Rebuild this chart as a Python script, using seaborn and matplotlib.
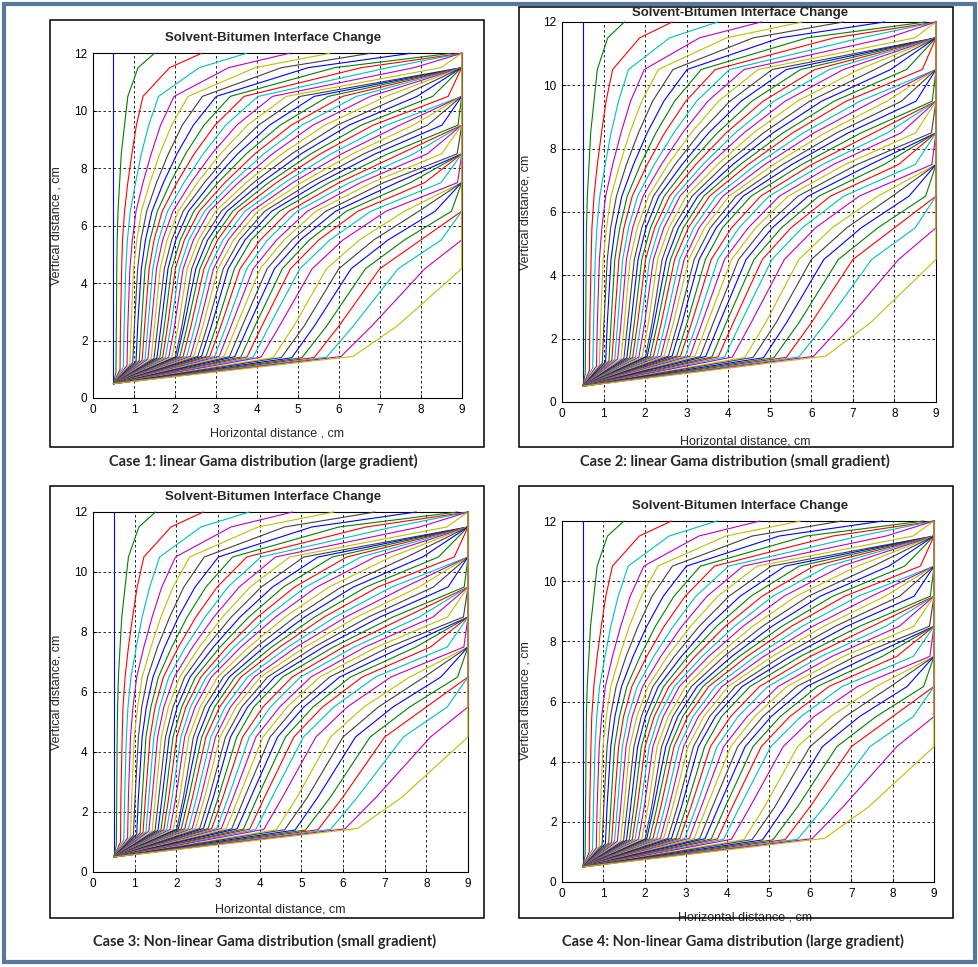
import matplotlib
matplotlib.use("Agg")
import matplotlib.pyplot as plt
import pandas as pd
import seaborn as sns
from matplotlib.patches import Rectangle

# ---------------- data ----------------
START_X, START_Y = 0.5, 0.5
Y_LEVELS = [2.5, 4.5, 5.5, 6.5, 7.5, 8.5, 9.5, 10.5, 11.5, 12.0]

KNEE_X = [0.50, 0.56, 0.66, 0.74, 0.83, 0.90, 0.97, 1.05, 1.13, 1.20, 1.27, 1.34,
          1.42, 1.49, 1.56, 1.63, 1.70, 1.77, 1.85, 1.93, 2.01, 2.05, 2.12, 2.20,
          2.29, 2.38, 2.46, 2.56, 2.65, 2.76, 2.85, 2.97, 3.08, 3.20, 3.33, 3.46,
          3.61, 3.76, 3.91, 4.10, 4.40, 4.60, 4.85, 5.10, 5.40, 5.70, 6.05, 6.35]
KNEE_Y = [1.00, 0.90, 1.00, 1.08, 1.14, 1.19, 1.23, 1.27, 1.30, 1.32, 1.34, 1.36,
          1.37, 1.38, 1.39, 1.40, 1.41, 1.42, 1.42, 1.43, 1.43, 1.44, 1.44, 1.44,
          1.45, 1.45, 1.45, 1.45, 1.45, 1.45, 1.45, 1.45, 1.45, 1.45, 1.44, 1.44,
          1.43, 1.43, 1.42, 1.42, 1.41, 1.41, 1.40, 1.40, 1.41, 1.42, 1.44, 1.45]
X_25 = [0.50, 0.57, 0.67, 0.76, 0.85, 0.93, 1.01, 1.09, 1.18, 1.26, 1.34, 1.42,
        1.50, 1.58, 1.66, 1.74, 1.82, 1.90, 1.99, 2.08, 2.17, 2.22, 2.30, 2.39,
        2.49, 2.59, 2.68, 2.79, 2.89, 3.01, 3.12, 3.25, 3.37, 3.50, 3.64, 3.79,
        3.95, 4.12, 4.30, 4.55, 4.90, 5.15, 5.40, 5.70, 6.00, 6.35, 6.80, 7.42]
X_45 = [0.50, 0.58, 0.70, 0.80, 0.90, 0.99, 1.09, 1.18, 1.27, 1.37, 1.46, 1.55,
        1.64, 1.74, 1.83, 1.92, 2.01, 2.11, 2.20, 2.30, 2.41, 2.51, 2.61, 2.71,
        2.83, 2.94, 3.05, 3.18, 3.30, 3.45, 3.59, 3.75, 3.91, 4.08, 4.25, 4.43,
        4.62, 4.82, 5.05, 5.35, 5.70, 6.00, 6.30, 6.65, 7.00, 7.45, 8.10, 9.00]
X_55 = [0.50, 0.59, 0.72, 0.84, 0.96, 1.07, 1.17, 1.28, 1.39, 1.49, 1.60, 1.70,
        1.81, 1.92, 2.02, 2.13, 2.23, 2.34, 2.45, 2.57, 2.68, 2.80, 2.92, 3.04,
        3.17, 3.30, 3.43, 3.57, 3.71, 3.86, 4.08, 4.26, 4.48, 4.66, 4.86, 5.06,
        5.28, 5.51, 5.78, 6.10, 6.50, 6.85, 7.20, 7.60, 8.00, 8.50, 9.00, 9.00]
X_65 = [0.50, 0.61, 0.77, 0.91, 1.05, 1.18, 1.31, 1.44, 1.57, 1.69, 1.82, 1.95,
        2.08, 2.20, 2.33, 2.46, 2.59, 2.72, 2.84, 2.99, 3.13, 3.27, 3.41, 3.55,
        3.71, 3.87, 4.02, 4.19, 4.36, 4.55, 4.78, 4.98, 5.23, 5.44, 5.68, 5.92,
        6.18, 6.46, 6.78, 7.15, 7.60, 7.95, 8.35, 8.75, 9.00, 9.00, 9.00, 9.00]
X_75 = [0.50, 0.65, 0.85, 1.04, 1.22, 1.39, 1.55, 1.72, 1.89, 2.05, 2.22, 2.39,
        2.55, 2.72, 2.89, 3.05, 3.22, 3.39, 3.55, 3.74, 3.92, 4.11, 4.29, 4.48,
        4.68, 4.88, 5.09, 5.31, 5.53, 5.77, 6.01, 6.27, 6.53, 6.81, 7.10, 7.42,
        7.75, 8.10, 8.50, 8.90, 9.00, 9.00, 9.00, 9.00, 9.00, 9.00, 9.00, 9.00]
X_85 = [0.50, 0.69, 0.95, 1.18, 1.42, 1.63, 1.84, 2.05, 2.26, 2.47, 2.69, 2.90,
        3.11, 3.32, 3.53, 3.74, 3.95, 4.17, 4.38, 4.61, 4.85, 5.08, 5.32, 5.55,
        5.81, 6.07, 6.33, 6.61, 6.89, 7.20, 7.50, 7.83, 8.16, 8.51, 8.89, 9.00,
        9.00, 9.00, 9.00, 9.00, 9.00, 9.00, 9.00, 9.00, 9.00, 9.00, 9.00, 9.00]
X_95 = [0.50, 0.77, 1.06, 1.36, 1.65, 1.92, 2.18, 2.45, 2.71, 2.98, 3.24, 3.51,
        3.77, 4.04, 4.31, 4.57, 4.84, 5.10, 5.37, 5.66, 5.96, 6.25, 6.55, 6.84,
        7.17, 7.49, 7.82, 8.17, 8.52, 8.91, 9.00, 9.00, 9.00, 9.00, 9.00, 9.00,
        9.00, 9.00, 9.00, 9.00, 9.00, 9.00, 9.00, 9.00, 9.00, 9.00, 9.00, 9.00]
X_105 = [0.50, 0.85, 1.22, 1.60, 1.98, 2.32, 2.67, 3.01, 3.35, 3.69, 4.03, 4.38,
         4.72, 5.06, 5.40, 5.74, 6.09, 6.43, 6.77, 7.15, 7.53, 7.91, 8.29, 8.67,
         9.00, 9.00, 9.00, 9.00, 9.00, 9.00, 9.00, 9.00, 9.00, 9.00, 9.00, 9.00,
         9.00, 9.00, 9.00, 9.00, 9.00, 9.00, 9.00, 9.00, 9.00, 9.00, 9.00, 9.00]
X_115 = [0.50, 1.10, 1.87, 2.59, 3.31, 3.96, 4.60, 5.25, 5.90, 6.55, 7.20, 7.84,
         8.49, 9.00, 9.00, 9.00, 9.00, 9.00, 9.00, 9.00, 9.00, 9.00, 9.00, 9.00,
         9.00, 9.00, 9.00, 9.00, 9.00, 9.00, 9.00, 9.00, 9.00, 9.00, 9.00, 9.00,
         9.00, 9.00, 9.00, 9.00, 9.00, 9.00, 9.00, 9.00, 9.00, 9.00, 9.00, 9.00]
X_120 = [0.50, 1.50, 2.65, 3.75, 4.79, 5.78, 6.77, 7.76, 8.75, 9.00, 9.00, 9.00,
         9.00, 9.00, 9.00, 9.00, 9.00, 9.00, 9.00, 9.00, 9.00, 9.00, 9.00, 9.00,
         9.00, 9.00, 9.00, 9.00, 9.00, 9.00, 9.00, 9.00, 9.00, 9.00, 9.00, 9.00,
         9.00, 9.00, 9.00, 9.00, 9.00, 9.00, 9.00, 9.00, 9.00, 9.00, 9.00, 9.00]

TITLE = "Solvent-Bitumen Interface Change"
X_TICKS = [0, 1, 2, 3, 4, 5, 6, 7, 8, 9]
Y_TICKS = [0, 2, 4, 6, 8, 10, 12]
XLABELS = ["Horizontal distance , cm", "Horizontal distance, cm",
           "Horizontal distance, cm", "Horizontal distance , cm"]
YLABELS = ["Vertical distance , cm", "Vertical distance, cm",
           "Vertical distance, cm", "Vertical distance , cm"]
CAPTIONS = ["Case 1: linear Gama distribution (large gradient)",
            "Case 2: linear Gama distribution (small gradient)",
            "Case 3: Non-linear Gama distribution (small gradient)",
            "Case 4: Non-linear Gama distribution (large gradient)"]
MATLAB_COLORS = ["#0000ff", "#008000", "#ff0000", "#00bfbf",
                 "#bf00bf", "#bfbf00", "#404040"]

# ---------------- build long table ----------------
levels = [X_25, X_45, X_55, X_65, X_75, X_85, X_95, X_105, X_115, X_120]
rows = []
for i in range(len(KNEE_X)):
    pts = [(START_X, START_Y), (KNEE_X[i], KNEE_Y[i])]
    pts += [(lv[i], yv) for lv, yv in zip(levels, Y_LEVELS)]
    for k, (xv, yv) in enumerate(pts):
        rows.append({"curve": i, "order": k, "x": xv, "y": yv})
df = pd.DataFrame(rows)
palette = {i: MATLAB_COLORS[i % 7] for i in range(len(KNEE_X))}

# ---------------- layout (pixels) ----------------
W, H = 979, 967
PANELS = [
    dict(ax=(93, 53.3, 461.7, 398), box=(50, 20, 484, 447), title=(273, 38),
         xl=(277, 428), yl=(63, 226), cap=(263, 461)),
    dict(ax=(562, 22, 936, 402), box=(519, 7, 953, 447), title=(740, 13),
         xl=(745, 435), yl=(532, 212), cap=(735, 461)),
    dict(ax=(93, 512, 468, 872), box=(50, 486, 484, 918), title=(273, 497),
         xl=(280, 903), yl=(63, 692), cap=(265, 941)),
    dict(ax=(562, 521, 934, 882), box=(519, 486, 953, 918), title=(740, 506),
         xl=(745, 912), yl=(532, 701), cap=(733, 941)),
]

sns.set_style("ticks")
plt.rcParams["font.family"] = ["Liberation Sans", "DejaVu Sans"]

fig = plt.figure(figsize=(W / 100, H / 100), dpi=100)
fig.patch.set_facecolor("white")


def fx(px):
    return px / W


def fy(py):
    return 1 - py / H


# outer frame
fig.patches.append(Rectangle((fx(4), fy(962)), fx(971), 958 / H, transform=fig.transFigure,
                             fill=False, ec="#56789b", lw=3.0, zorder=0))

for p, xl, yl, cap in zip(PANELS, XLABELS, YLABELS, CAPTIONS):
    l, t, r, b = p["ax"]
    ax = fig.add_axes([fx(l), fy(b), (r - l) / W, (b - t) / H])
    sns.lineplot(data=df, x="x", y="y", hue="curve", palette=palette, sort=False,
                 estimator=None, legend=False, linewidth=0.8, ax=ax,
                 zorder=3, clip_on=False)
    ax.set_xlim(0, 9)
    ax.set_ylim(0, 12)
    ax.set_xticks(X_TICKS)
    ax.set_yticks(Y_TICKS)
    ax.grid(True, color="black", linestyle=(0, (3, 3)), linewidth=0.6)
    ax.set_axisbelow(True)
    ax.tick_params(direction="in", length=3, width=0.6, labelsize=8.5, pad=4,
                   colors="black")
    for s in ax.spines.values():
        s.set_color("black")
        s.set_linewidth(0.8)
    ax.set_xlabel(xl, fontsize=9)
    ax.set_ylabel(yl, fontsize=9)
    ax.xaxis.set_label_coords((p["xl"][0] - l) / (r - l), (b - p["xl"][1]) / (b - t))
    ax.yaxis.set_label_coords((p["yl"][0] - l) / (r - l), (b - p["yl"][1]) / (b - t))
    bl, bt, br, bb = p["box"]
    fig.patches.append(Rectangle((fx(bl), fy(bb)), (br - bl) / W, (bb - bt) / H,
                                 transform=fig.transFigure, fill=False, ec="black",
                                 lw=1.1, zorder=0))
    fig.text(fx(p["title"][0]), fy(p["title"][1]), TITLE, ha="center", va="center",
             fontsize=9.5, fontweight="bold")
    fig.text(fx(p["cap"][0]), fy(p["cap"][1]), cap, ha="center", va="center",
             fontsize=10.5, fontweight="bold", family=["Lato", "DejaVu Sans"])

fig.savefig("out.png", dpi=100, facecolor="white")
